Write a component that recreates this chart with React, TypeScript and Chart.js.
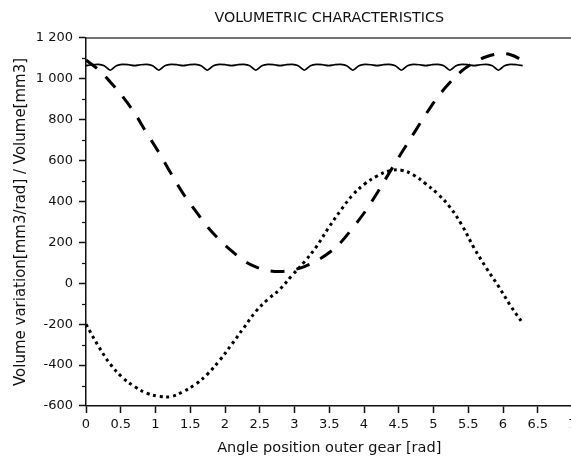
import React, { useEffect, useRef } from "react";
import { Chart, registerables } from "chart.js";

Chart.register(...registerables);

// Angle grid every 10 degrees (rad)
const angle10 = [
  0, 0.175, 0.349, 0.524, 0.698, 0.873, 1.047, 1.222, 1.396, 1.571, 1.745, 1.92,
  2.094, 2.269, 2.443, 2.618, 2.793, 2.967, 3.142, 3.316, 3.491, 3.665, 3.84,
  4.014, 4.189, 4.363, 4.538, 4.712, 4.887, 5.061, 5.236, 5.411, 5.585, 5.76,
  5.934, 6.109, 6.283,
];

// Volume variation [mm3/rad] (dotted)
const volumeVariation = [
  -200, -305, -395, -460, -505, -537, -552, -554, -530, -495, -445, -378, -300,
  -218, -138, -78, -28, 40, 105, 180, 272, 357, 433, 487, 525, 550, 553, 530,
  487, 437, 373, 283, 172, 75, -14, -110, -195,
];

// Volume [mm3] (dashed)
const volume = [
  1092, 1046, 985, 915, 833, 735, 641, 538, 440, 357, 278, 213, 159, 112, 80,
  63, 58, 65, 82, 110, 148, 200, 272, 350, 442, 540, 637, 731, 825, 911, 982,
  1040, 1080, 1108, 1122, 1118, 1090,
];

// Angle grid every 5 degrees (rad)
const angle5 = [
  0, 0.087, 0.175, 0.262, 0.349, 0.436, 0.524, 0.611, 0.698, 0.785, 0.873,
  0.96, 1.047, 1.134, 1.222, 1.309, 1.396, 1.484, 1.571, 1.658, 1.745, 1.833,
  1.92, 2.007, 2.094, 2.182, 2.269, 2.356, 2.443, 2.531, 2.618, 2.705, 2.793,
  2.88, 2.967, 3.054, 3.142, 3.229, 3.316, 3.403, 3.491, 3.578, 3.665, 3.752,
  3.84, 3.927, 4.014, 4.102, 4.189, 4.276, 4.363, 4.451, 4.538, 4.625, 4.712,
  4.8, 4.887, 4.974, 5.061, 5.149, 5.236, 5.323, 5.411, 5.498, 5.585, 5.672,
  5.76, 5.847, 5.934, 6.021, 6.109, 6.196, 6.283,
];

// Total volume [mm3] (solid)
const totalVolume = [
  1065, 1069, 1071, 1064, 1042, 1064, 1071, 1069,
  1065, 1069, 1071, 1064, 1042, 1064, 1071, 1069,
  1065, 1069, 1071, 1064, 1042, 1064, 1071, 1069,
  1065, 1069, 1071, 1064, 1042, 1064, 1071, 1069,
  1065, 1069, 1071, 1064, 1042, 1064, 1071, 1069,
  1065, 1069, 1071, 1064, 1042, 1064, 1071, 1069,
  1065, 1069, 1071, 1064, 1042, 1064, 1071, 1069,
  1065, 1069, 1071, 1064, 1042, 1064, 1071, 1069,
  1065, 1069, 1071, 1064, 1042, 1064, 1071, 1069,
  1065,
];

const X_MIN = 0;
const X_MAX = 7;
const X_STEP = 0.5;
const Y_MIN = -600;
const Y_MAX = 1200;
const Y_STEP = 200;
const Y_MINOR = [-500, -300, -100, 100, 300, 500, 700, 900, 1100];

const TITLE = "VOLUMETRIC CHARACTERISTICS";
const X_TITLE = "Angle position outer gear [rad]";
const Y_TITLE = "Volume variation[mm3/rad] / Volume[mm3]";

const FONT = "'DejaVu Sans', sans-serif";
const INK = "#111";

function fmtY(v: number): string {
  const s = String(Math.abs(v)).replace(/\B(?=(\d{3})+(?!\d))/g, " ");
  return (v < 0 ? "-" : "") + s;
}

const framePlugin = {
  id: "frameExtras",
  afterDraw(chart: any) {
    const { ctx, chartArea } = chart;
    const y = chart.scales.y;
    ctx.save();
    ctx.strokeStyle = "#444";
    ctx.lineWidth = 1.5;
    ctx.beginPath();
    ctx.moveTo(chartArea.left, chartArea.top);
    ctx.lineTo(chartArea.right + 2, chartArea.top);
    ctx.stroke();
    ctx.strokeStyle = INK;
    ctx.lineWidth = 1.2;
    for (const v of Y_MINOR) {
      const py = Math.round(y.getPixelForValue(v)) + 0.5;
      ctx.beginPath();
      ctx.moveTo(chartArea.left - 4, py);
      ctx.lineTo(chartArea.left, py);
      ctx.stroke();
    }
    ctx.restore();
  },
};

export default function App() {
  const ref = useRef<HTMLCanvasElement>(null);
  useEffect(() => {
    const chart = new Chart(ref.current!, {
      type: "line",
      data: {
        datasets: [
          {
            label: "Total volume",
            data: angle5.map((a, i) => ({ x: a, y: totalVolume[i] })),
            borderColor: "#000",
            borderWidth: 1.7,
            pointRadius: 0,
            tension: 0.2,
            fill: false,
          },
          {
            label: "Volume",
            data: angle10.map((a, i) => ({ x: a, y: volume[i] })),
            borderColor: "#000",
            borderWidth: 3,
            borderDash: [14, 12],
            borderCapStyle: "butt",
            pointRadius: 0,
            tension: 0.4,
            fill: false,
          },
          {
            label: "Volume variation",
            data: angle10.map((a, i) => ({ x: a, y: volumeVariation[i] })),
            borderColor: "#000",
            borderWidth: 3,
            borderDash: [3, 3.7],
            borderCapStyle: "butt",
            pointRadius: 0,
            tension: 0.4,
            fill: false,
          },
        ],
      },
      options: {
        animation: false,
        responsive: false,
        maintainAspectRatio: false,
        layout: { padding: { left: 0, right: 27.5, top: 0, bottom: 0 } },
        plugins: {
          legend: { display: false },
          tooltip: { enabled: false },
          title: {
            display: true,
            text: TITLE,
            fullSize: false,
            color: INK,
            font: { family: FONT, size: 14.3, weight: "normal" },
            padding: { top: 9.8, bottom: 11 },
          },
        },
        scales: {
          x: {
            type: "linear",
            min: X_MIN,
            max: X_MAX,
            afterFit: (s: any) => {
              s.height = 51;
            },
            ticks: {
              stepSize: X_STEP,
              color: INK,
              padding: 4,
              font: { family: FONT, size: 13 },
              maxRotation: 0,
              autoSkip: false,
              callback: (v: any) => String(v),
            },
            grid: {
              display: true,
              drawOnChartArea: false,
              drawTicks: true,
              tickLength: 7,
              tickWidth: 1.5,
              tickColor: INK,
              color: INK,
            },
            border: { display: true, color: INK, width: 1.5 },
            title: {
              display: true,
              text: X_TITLE,
              color: INK,
              font: { family: FONT, size: 14.5 },
              padding: { top: 0, bottom: 0 },
            },
          },
          y: {
            type: "linear",
            min: Y_MIN,
            max: Y_MAX,
            afterFit: (s: any) => {
              s.width = 86;
            },
            ticks: {
              stepSize: Y_STEP,
              color: INK,
              padding: 6,
              font: { family: FONT, size: 13 },
              callback: (v: any) => fmtY(Number(v)),
            },
            grid: {
              display: true,
              drawOnChartArea: false,
              drawTicks: true,
              tickLength: 7,
              tickWidth: 1.5,
              tickColor: INK,
              color: INK,
            },
            border: { display: true, color: INK, width: 1.5 },
            title: {
              display: true,
              text: Y_TITLE,
              color: INK,
              font: { family: FONT, size: 15 },
              padding: { top: 12, bottom: 0 },
            },
          },
        },
      },
      plugins: [framePlugin],
    });
    return () => chart.destroy();
  }, []);
  return (
    <div
      style={{
        position: "fixed",
        left: 0,
        top: 0,
        width: 600,
        height: 457,
        background: "#fff",
      }}
    >
      <canvas
        ref={ref}
        width={600}
        height={457}
        style={{ display: "block", width: 600, height: 457 }}
      />
    </div>
  );
}
